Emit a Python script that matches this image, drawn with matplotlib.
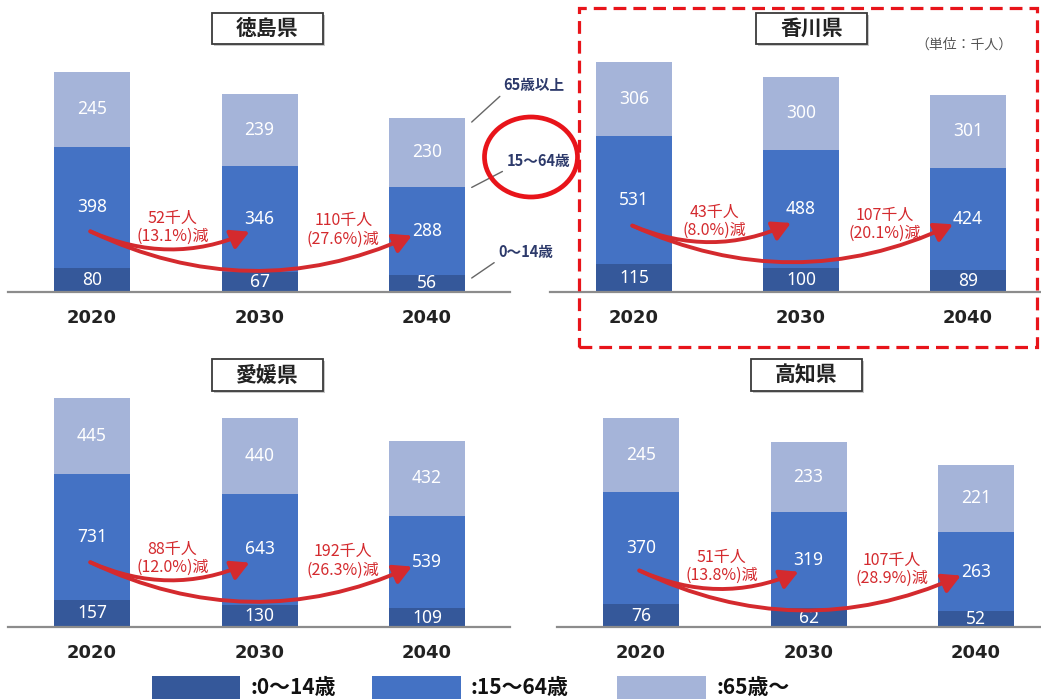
import matplotlib
matplotlib.use("Agg")
import matplotlib.pyplot as plt
from matplotlib.patches import Rectangle, Ellipse, FancyArrowPatch
import numpy as np

plt.rcParams['font.family'] = ['Noto Sans CJK JP', 'DejaVu Sans']

W, H = 1041, 699

years = ["2020", "2030", "2040"]
age_groups = [":0～14歳", ":15～64歳", ":65歳～"]

# Population by age group (thousand people)
tokushima_0_14 = [80, 67, 56]
tokushima_15_64 = [398, 346, 288]
tokushima_65 = [245, 239, 230]

kagawa_0_14 = [115, 100, 89]
kagawa_15_64 = [531, 488, 424]
kagawa_65 = [306, 300, 301]

ehime_0_14 = [157, 130, 109]
ehime_15_64 = [731, 643, 539]
ehime_65 = [445, 440, 432]

kochi_0_14 = [76, 62, 52]
kochi_15_64 = [370, 319, 263]
kochi_65 = [245, 233, 221]

# Decrease of the 15-64 population from 2020
tokushima_change = ["52千人\n(13.1%)減", "110千人\n(27.6%)減"]
kagawa_change = ["43千人\n(8.0%)減", "107千人\n(20.1%)減"]
ehime_change = ["88千人\n(12.0%)減", "192千人\n(26.3%)減"]
kochi_change = ["51千人\n(13.8%)減", "107千人\n(28.9%)減"]

C_KIDS = "#35589a"
C_WORK = "#4472c4"
C_OLD = "#a5b4d9"
RED = "#d42a2e"
FRAME_RED = "#e8141a"
NUM_FONT = ['Noto Sans', 'DejaVu Sans']

fig = plt.figure(figsize=(W / 100, H / 100), dpi=100)
fig.patch.set_facecolor("white")


def fx(px):
    return px / W


def fy(py):
    return 1 - py / H


def pixel_rect(x0, x1, y0, y1, **kw):
    return Rectangle((fx(x0), fy(y1)), (x1 - x0) / W, (y1 - y0) / H,
                     transform=fig.transFigure, **kw)


panels = [
    dict(title="徳島県", kids=tokushima_0_14, work=tokushima_15_64, old=tokushima_65,
         change=tokushima_change, left=8, right=510, first=92, step=167.5,
         base=292, top=40, scale=0.304, box=(212, 323, 13, 44)),
    dict(title="香川県", kids=kagawa_0_14, work=kagawa_15_64, old=kagawa_65,
         change=kagawa_change, left=550, right=1041, first=634, step=167,
         base=292, top=40, scale=0.242, box=(756, 867, 13, 44)),
    dict(title="愛媛県", kids=ehime_0_14, work=ehime_15_64, old=ehime_65,
         change=ehime_change, left=8, right=510, first=92, step=167.5,
         base=627, top=380, scale=0.172, box=(212, 323, 359, 391)),
    dict(title="高知県", kids=kochi_0_14, work=kochi_15_64, old=kochi_65,
         change=kochi_change, left=557, right=1041, first=641, step=167.5,
         base=627, top=380, scale=0.302, box=(751, 862, 359, 391)),
]

axes = []
for p in panels:
    ax = fig.add_axes([fx(p["left"]), fy(p["base"]),
                       (p["right"] - p["left"]) / W, (p["base"] - p["top"]) / H])
    ax.set_facecolor("none")
    ax.set_xlim((p["left"] - p["first"]) / p["step"], (p["right"] - p["first"]) / p["step"])
    ax.set_ylim(0, (p["base"] - p["top"]) / p["scale"])
    x = np.arange(len(years))
    bw = 76 / p["step"]
    kids = np.array(p["kids"])
    work = np.array(p["work"])
    old = np.array(p["old"])

    ax.bar(x, kids, bw, color=C_KIDS, zorder=2)
    ax.bar(x, work, bw, bottom=kids, color=C_WORK, zorder=2)
    ax.bar(x, old, bw, bottom=kids + work, color=C_OLD, zorder=2)

    for i in range(len(years)):
        for val, bottom in ((kids[i], 0), (work[i], kids[i]), (old[i], kids[i] + work[i])):
            ax.text(x[i], bottom + val / 2, f"{val}", ha="center", va="center",
                    color="white", fontsize=12.5, family=NUM_FONT, zorder=4)

    for side in ("top", "left", "right"):
        ax.spines[side].set_visible(False)
    ax.spines["bottom"].set_color("#8c8c8c")
    ax.spines["bottom"].set_linewidth(1.6)
    ax.set_yticks([])
    ax.set_xticks(x, years)
    for lab in ax.get_xticklabels():
        lab.set_fontsize(13)
        lab.set_fontweight("bold")
        lab.set_color("#222222")
        lab.set_family(['DejaVu Sans'])
    ax.tick_params(axis="x", length=0, pad=12)

    # working-age decrease arrows
    y_start = kids[0] + 0.3 * work[0]
    y_mid = kids[1] + 0.38 * work[1]
    y_end = kids[2] + 0.45 * work[2]
    start = (x[0] - 0.01, y_start)
    for target, rad in (((x[1] - 0.06, y_mid), 0.22), ((x[2] - 0.09, y_end), 0.23)):
        arr = FancyArrowPatch(start, target, connectionstyle=f"arc3,rad={rad}",
                              arrowstyle="-|>,head_length=0.55,head_width=0.3",
                              mutation_scale=20, lw=2.8, color=RED, zorder=5,
                              shrinkA=0, shrinkB=0)
        ax.add_patch(arr)
    ax.annotate(p["change"][0], xy=(0.48, y_start), xytext=(0, 3),
                textcoords="offset points", ha="center", va="center",
                color=RED, fontsize=11.5, linespacing=1.1, zorder=6)
    ax.annotate(p["change"][1], xy=(1.5, y_start), xytext=(0, 1),
                textcoords="offset points", ha="center", va="center",
                color=RED, fontsize=11.5, linespacing=1.1, zorder=6)
    axes.append(ax)

    # panel title box
    x0, x1, y0, y1 = p["box"]
    fig.add_artist(pixel_rect(x0 + 2, x1 + 2, y0 + 2, y1 + 2, facecolor="#c8c8c8",
                              edgecolor="none", zorder=1))
    fig.add_artist(pixel_rect(x0, x1, y0, y1, facecolor="white",
                              edgecolor="#3a3a3a", lw=1.3, zorder=2))
    fig.text(fx((x0 + x1) / 2), fy((y0 + y1) / 2), p["title"], ha="center", va="center",
             fontsize=15, fontweight="bold", color="#222222", zorder=3)

# age-group guide labels next to the first panel
ax0 = axes[0]
p0 = panels[0]
bw0 = 76 / p0["step"]
k, w_, o = p0["kids"][2], p0["work"][2], p0["old"][2]
guide_x = 2 + bw0 / 2 + 0.04
for text, yv, off in (("65歳以上", k + w_ + o - 15, (23, 21)),
                      ("15～64歳", k + w_, (25, 13)),
                      ("0～14歳", k - 10, (19, 13))):
    ax0.annotate(text, xy=(guide_x, yv), xytext=off, textcoords="offset points",
                 ha="left", va="bottom", fontsize=10.5, color="#2d3a6b",
                 fontweight="bold",
                 arrowprops=dict(arrowstyle="-", color="#666666", lw=1.0,
                                 shrinkA=1, shrinkB=0, relpos=(0, 0)),
                 annotation_clip=False)

# highlight ring around the working-age label
fig.add_artist(Ellipse((fx(531), fy(157)), 93 / W, 80 / H, transform=fig.transFigure,
                       fill=False, edgecolor=FRAME_RED, lw=3.4, zorder=10))

# dashed frame around Kagawa
fig.add_artist(pixel_rect(579, 1037, 8, 347, fill=False, edgecolor=FRAME_RED, lw=2.3,
                          linestyle=(0, (4, 2.2)), zorder=10))

fig.text(fx(964), fy(45), "（単位：千人）", ha="center", va="center",
         fontsize=10, color="#555555")

# legend
legend_colors = [C_KIDS, C_WORK, C_OLD]
legend_x = [(152, 240), (372, 461), (617, 706)]
for (x0, x1), col, lab in zip(legend_x, legend_colors, age_groups):
    fig.add_artist(pixel_rect(x0, x1, 676, 700, facecolor=col, edgecolor="none"))
    fig.text(fx(x1 + 10), fy(688), lab, ha="left", va="center", fontsize=15,
             fontweight="bold", color="#111111")

fig.savefig("out.png", dpi=100, facecolor="white")
